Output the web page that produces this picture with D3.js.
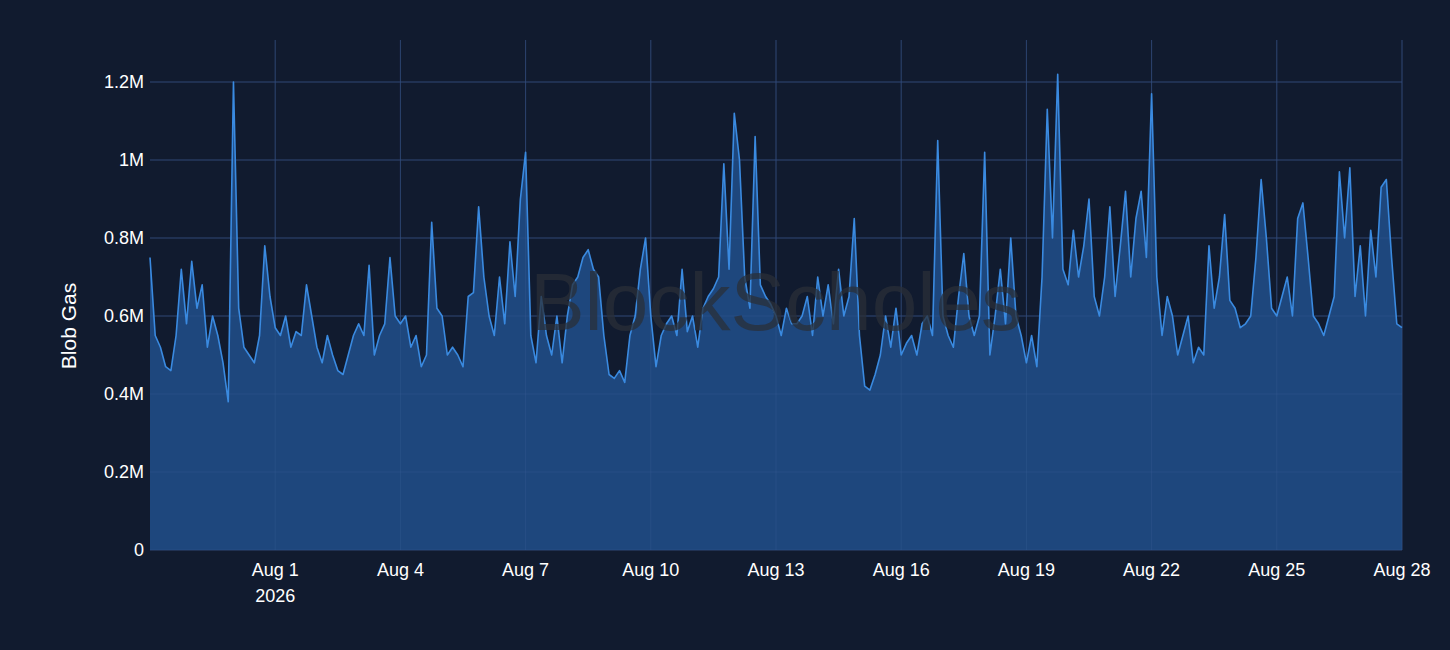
<!DOCTYPE html>
<html>
<head>
<meta charset="utf-8">
<script src="https://cdn.jsdelivr.net/npm/d3@7"></script>
<style>
body { margin: 0; background: #111b2f; }
svg { display: block; font-family: "Liberation Sans", Arial, sans-serif; }
</style>
</head>
<body>
<svg id="chart" width="1450" height="650"></svg>
<script>
// 3-hourly blob gas (millions), starting Jul 29 2026 00:00
var startDate = new Date(2026, 6, 29);
var blobGas = [
  0.75,0.55,0.52,0.47,0.46,0.55,0.72,0.58,
  0.74,0.62,0.68,0.52,0.6,0.55,0.48,0.38,
  1.2,0.62,0.52,0.5,0.48,0.55,0.78,0.65,
  0.57,0.55,0.6,0.52,0.56,0.55,0.68,0.6,
  0.52,0.48,0.55,0.5,0.46,0.45,0.5,0.55,
  0.58,0.55,0.73,0.5,0.55,0.58,0.75,0.6,
  0.58,0.6,0.52,0.55,0.47,0.5,0.84,0.62,
  0.6,0.5,0.52,0.5,0.47,0.65,0.66,0.88,
  0.7,0.6,0.55,0.7,0.58,0.79,0.65,0.9,
  1.02,0.55,0.48,0.65,0.55,0.5,0.6,0.48,
  0.6,0.68,0.7,0.75,0.77,0.72,0.7,0.55,
  0.45,0.44,0.46,0.43,0.55,0.6,0.72,0.8,
  0.6,0.47,0.55,0.58,0.6,0.55,0.72,0.56,
  0.6,0.52,0.62,0.65,0.67,0.7,0.99,0.72,
  1.12,1.0,0.7,0.62,1.06,0.68,0.65,0.63,
  0.6,0.55,0.62,0.58,0.58,0.6,0.65,0.55,
  0.7,0.6,0.68,0.58,0.72,0.6,0.65,0.85,
  0.55,0.42,0.41,0.45,0.5,0.6,0.52,0.62,
  0.5,0.53,0.55,0.5,0.58,0.6,0.55,1.05,
  0.6,0.55,0.52,0.65,0.76,0.6,0.55,0.6,
  1.02,0.5,0.6,0.72,0.58,0.8,0.6,0.55,
  0.48,0.55,0.47,0.7,1.13,0.8,1.22,0.72,
  0.68,0.82,0.7,0.78,0.9,0.65,0.6,0.7,
  0.88,0.65,0.78,0.92,0.7,0.85,0.92,0.75,
  1.17,0.7,0.55,0.65,0.6,0.5,0.55,0.6,
  0.48,0.52,0.5,0.78,0.62,0.7,0.86,0.64,
  0.62,0.57,0.58,0.6,0.75,0.95,0.8,0.62,
  0.6,0.65,0.7,0.6,0.85,0.89,0.75,0.6,
  0.58,0.55,0.6,0.65,0.97,0.8,0.98,0.65,
  0.78,0.6,0.82,0.7,0.93,0.95,0.75,0.58,
  0.57
];
var yTicks = [0, 0.2, 0.4, 0.6, 0.8, 1, 1.2];
var yTickLabels = ["0", "0.2M", "0.4M", "0.6M", "0.8M", "1M", "1.2M"];
var xTickDays = [1, 4, 7, 10, 13, 16, 19, 22, 25, 28];

var data = blobGas.map(function(v, i) {
  return { date: new Date(startDate.getTime() + i * 3 * 3600 * 1000), value: v };
});

var svg = d3.select("#chart");
var plotL = 150, plotR = 1402, plotT = 40, plotB = 550;

var x = d3.scaleTime()
  .domain([startDate, data[data.length - 1].date])
  .range([plotL, plotR]);
var y = d3.scaleLinear().domain([0, 1.3077]).range([plotB, plotT]);

yTicks.forEach(function(t) {
  svg.append("line").attr("x1", plotL).attr("x2", plotR)
    .attr("y1", y(t)).attr("y2", y(t))
    .attr("stroke", "#26365a").attr("stroke-width", 1);
});
xTickDays.forEach(function(d) {
  var xx = x(new Date(2026, 7, d));
  svg.append("line").attr("x1", xx).attr("x2", xx)
    .attr("y1", plotT).attr("y2", plotB)
    .attr("stroke", "#26365a").attr("stroke-width", 1);
});

var area = d3.area()
  .x(function(d) { return x(d.date); })
  .y0(y(0))
  .y1(function(d) { return y(d.value); });
var line = d3.line()
  .x(function(d) { return x(d.date); })
  .y(function(d) { return y(d.value); });

svg.append("path").datum(data).attr("d", area)
  .attr("fill", "#1e477d");

// gridlines faintly visible over fill
xTickDays.forEach(function(d) {
  var xx = x(new Date(2026, 7, d));
  svg.append("line").attr("x1", xx).attr("x2", xx)
    .attr("y1", plotT).attr("y2", plotB)
    .attr("stroke", "#3a5f95").attr("stroke-opacity", 0.35);
});
yTicks.forEach(function(t) {
  svg.append("line").attr("x1", plotL).attr("x2", plotR)
    .attr("y1", y(t)).attr("y2", y(t))
    .attr("stroke", "#3a5f95").attr("stroke-opacity", 0.35);
});

svg.append("path").datum(data).attr("d", line)
  .attr("fill", "none").attr("stroke", "#3a8ae0").attr("stroke-width", 1.6)
  .attr("stroke-linejoin", "round");

// watermark
svg.append("text").attr("x", 776).attr("y", 330)
  .attr("text-anchor", "middle").attr("font-size", 82)
  .attr("fill", "#2a2f38").attr("fill-opacity", 0.75)
  .text("BlockScholes");

yTicks.forEach(function(t, i) {
  svg.append("text").attr("x", plotL - 6).attr("y", y(t) + 6)
    .attr("text-anchor", "end").attr("font-size", 18).attr("fill", "#ffffff")
    .text(yTickLabels[i]);
});
xTickDays.forEach(function(d) {
  var xx = x(new Date(2026, 7, d));
  svg.append("text").attr("x", xx).attr("y", 576)
    .attr("text-anchor", "middle").attr("font-size", 18).attr("fill", "#ffffff")
    .text("Aug " + d);
});
svg.append("text").attr("x", x(new Date(2026, 7, 1))).attr("y", 602)
  .attr("text-anchor", "middle").attr("font-size", 18).attr("fill", "#ffffff")
  .text("2026");

svg.append("text")
  .attr("transform", "translate(76," + (y(0.6) + 10) + ") rotate(-90)")
  .attr("text-anchor", "middle").attr("font-size", 21).attr("fill", "#ffffff")
  .text("Blob Gas");
</script>
</body>
</html>
